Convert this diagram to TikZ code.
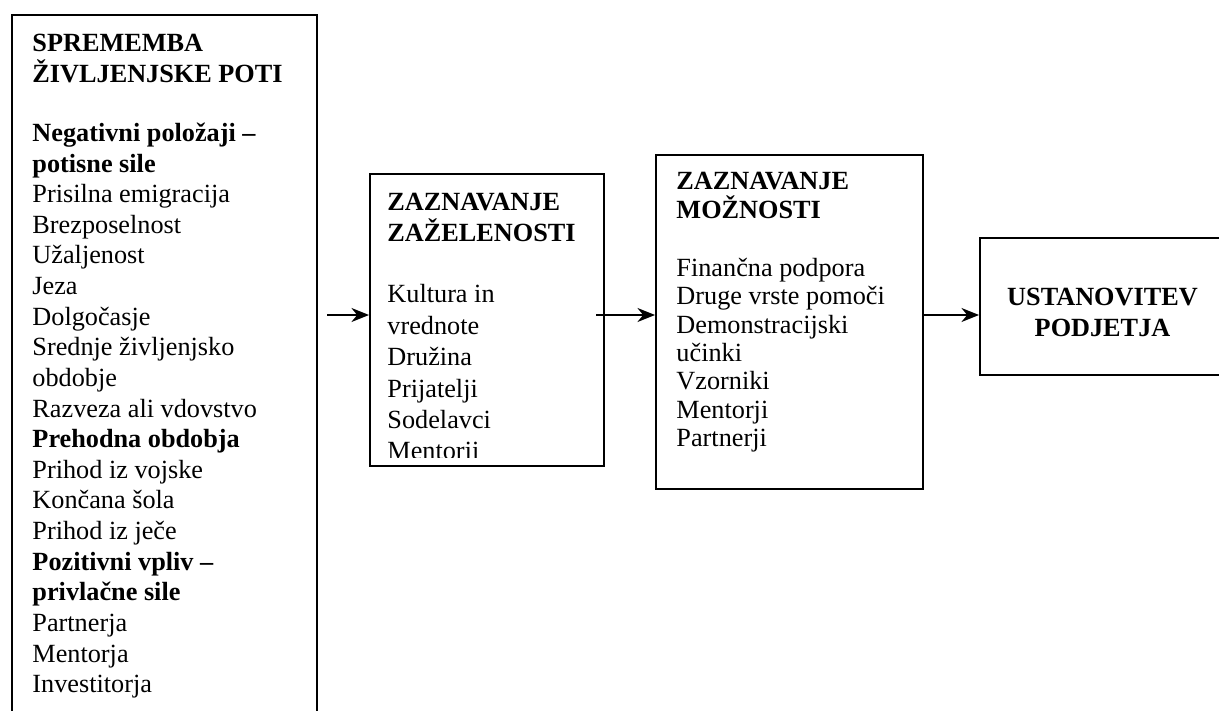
\documentclass[tikz,border=0pt]{standalone}
\usepackage{fontspec}
\setmainfont{Liberation Serif}
\usetikzlibrary{arrows.meta, positioning}

\begin{document}
\begin{tikzpicture}[x=0.015cm, y=-0.015cm,
    box/.style={draw, line width=0.85pt, rectangle, inner sep=0pt, anchor=north west},
    txt/.style={align=left, inner sep=0pt, font=\fontsize{11.2}{13.4}\selectfont},
    pil/.style={line width=0.75pt, -{Stealth[length=7.5pt, width=6pt]}}]

  \useasboundingbox (0,0) rectangle (1219,711);
  \clip (0,0) rectangle (1219,711);

  % Okvirji
  \node[box, minimum width=4.575cm, minimum height=11.2cm] (spr) at (11,14) {};
  \node[box, minimum width=3.51cm, minimum height=4.38cm] (zel) at (369,173) {};
  \node[box, minimum width=4.005cm, minimum height=5.01cm] (moz) at (655,154) {};
  \node[box, minimum width=3.675cm, minimum height=2.055cm] (ust) at (979,237) {};

  % Sprememba zivljenjske poti
  \node[txt, font=\fontsize{11.2}{13.07}\selectfont,
        below right=0.3cm and 0.315cm of spr.north west] (sprt) {%
    \textbf{SPREMEMBA}\\
    \textbf{ŽIVLJENJSKE POTI}\\[12.1pt]
    \textbf{Negativni položaji –}\\
    \textbf{potisne sile}\\
    Prisilna emigracija\\
    Brezposelnost\\
    Užaljenost\\
    Jeza\\
    Dolgočasje\\
    Srednje življenjsko\\
    obdobje\\
    Razveza ali vdovstvo\\
    \textbf{Prehodna obdobja}\\
    Prihod iz vojske\\
    Končana šola\\
    Prihod iz ječe\\
    \textbf{Pozitivni vpliv –}\\
    \textbf{privlačne sile}\\
    Partnerja\\
    Mentorja\\
    Investitorja};

  % Zaznavanje zazelenosti
  \begin{scope}
    \clip (zel.north west) rectangle ([yshift=0.14cm]zel.south east);
    \node[txt, below right=0.29cm and 0.27cm of zel.north west] (zelt) {%
      \textbf{ZAZNAVANJE}\\
      \textbf{ZAŽELENOSTI}\\[12.8pt]
      Kultura in\\
      vrednote\\
      Družina\\
      Prijatelji\\
      Sodelavci\\
      Mentorji};
  \end{scope}

  % Zaznavanje moznosti
  \node[txt, font=\fontsize{11.2}{12.1}\selectfont,
        below right=0.27cm and 0.315cm of moz.north west] (mozt) {%
    \textbf{ZAZNAVANJE}\\
    \textbf{MOŽNOSTI}\\[12.8pt]
    Finančna podpora\\
    Druge vrste pomoči\\
    Demonstracijski\\
    učinki\\
    Vzorniki\\
    Mentorji\\
    Partnerji};

  % Ustanovitev podjetja
  \node[txt, align=center, yshift=-0.09cm] (ustt) at (ust.center) {%
    \textbf{USTANOVITEV}\\
    \textbf{PODJETJA}};

  % Puscice
  \coordinate (p1) at (327,315);
  \coordinate (p2) at (596,315);
  \coordinate (p3) at (922,315);
  \draw[pil] (p1) -- (p1 -| zel.west);
  \draw[pil] (p2) -- (p2 -| moz.west);
  \draw[pil] (p3) -- (p3 -| ust.west);

\end{tikzpicture}
\end{document}
